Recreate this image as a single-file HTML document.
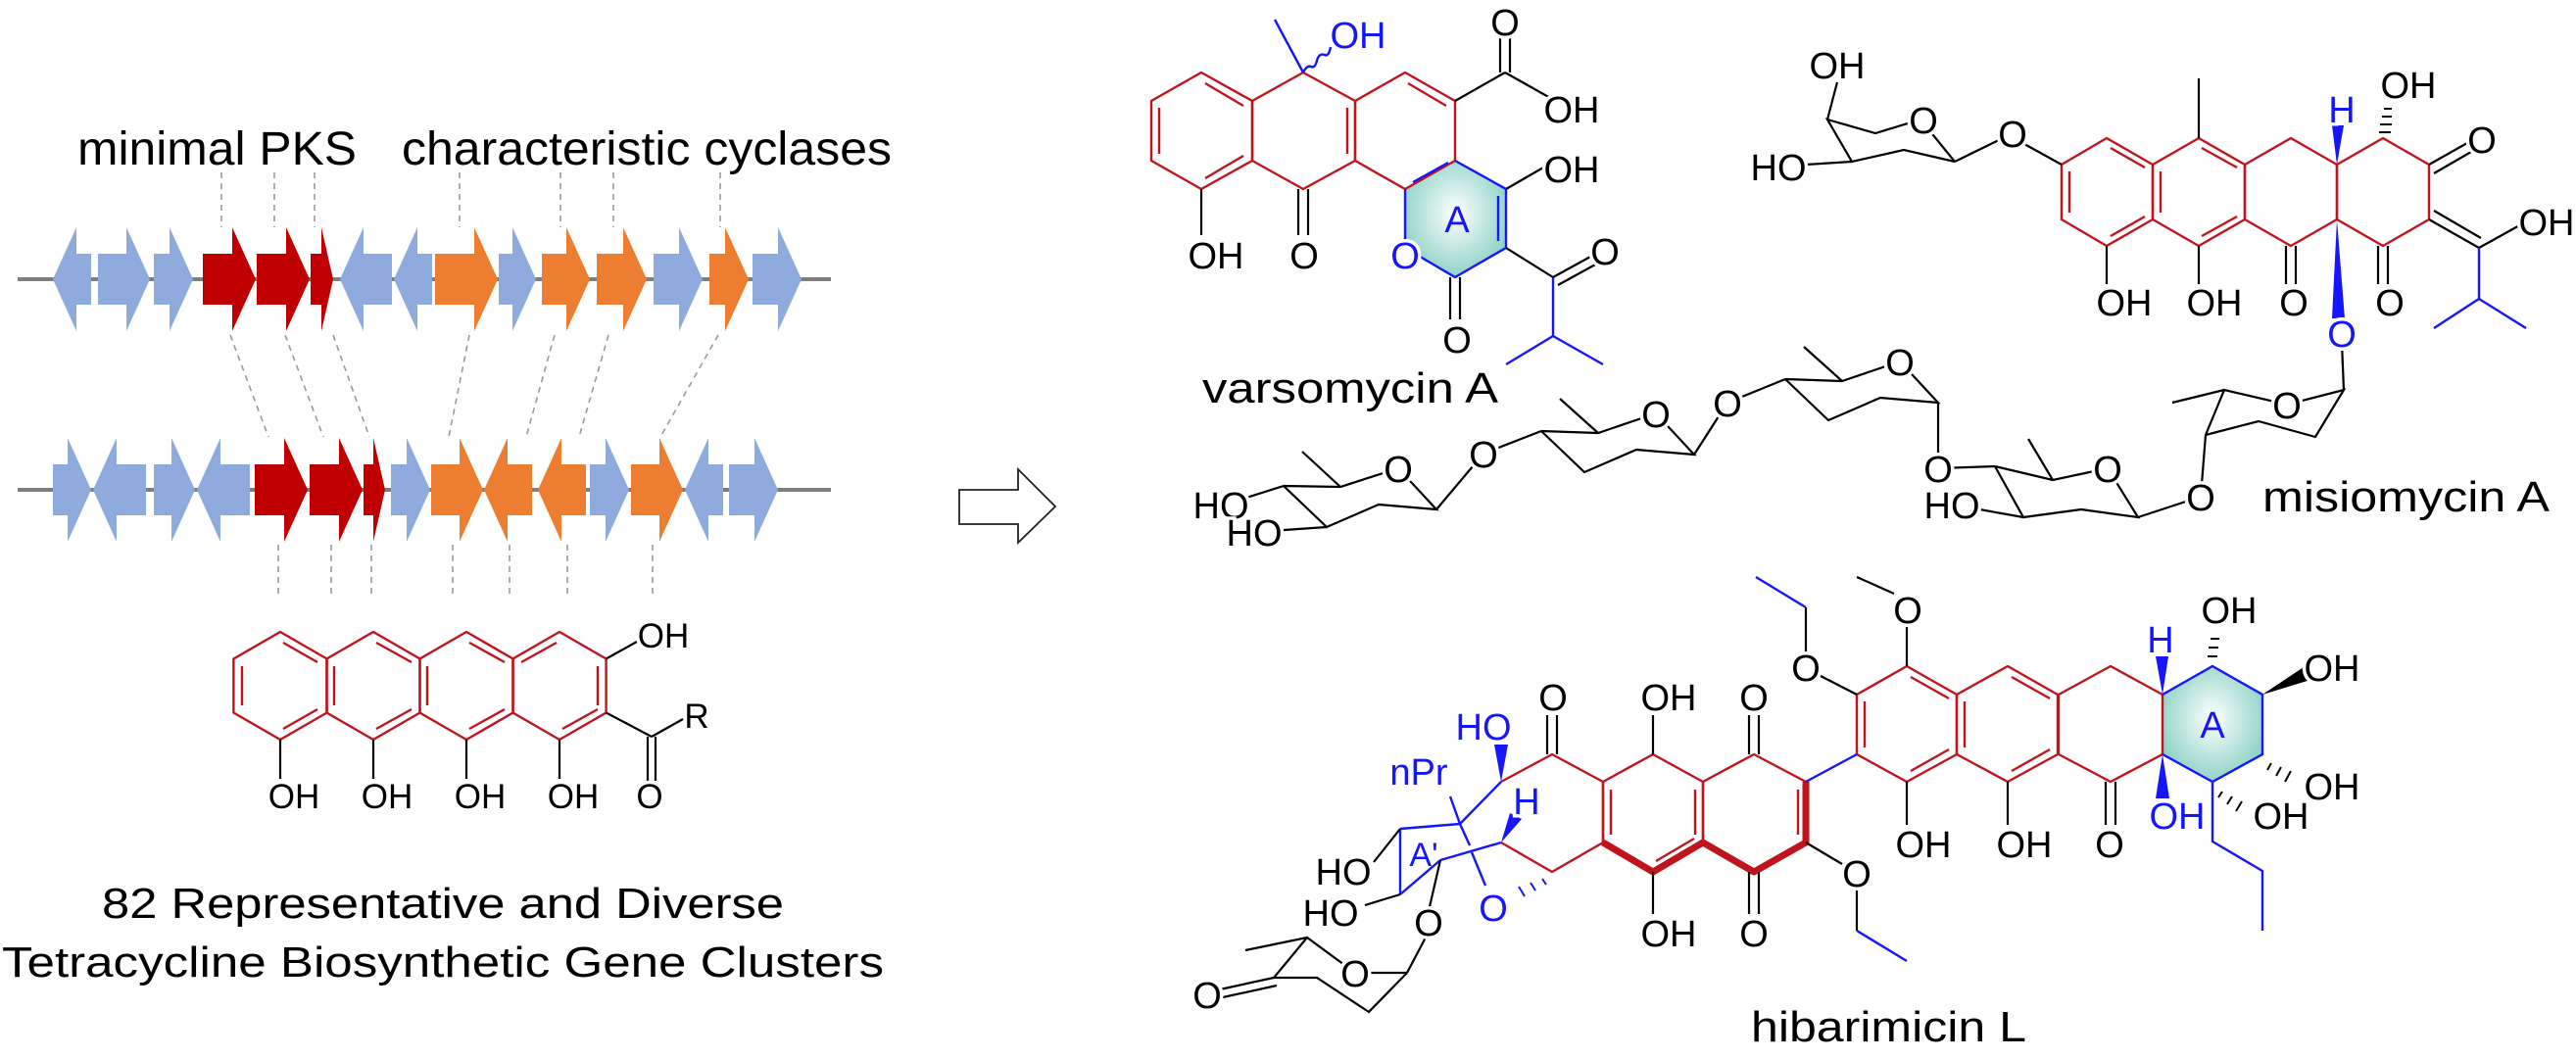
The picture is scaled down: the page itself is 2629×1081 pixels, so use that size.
<!DOCTYPE html>
<html><head><meta charset="utf-8"><style>
html,body{margin:0;padding:0;background:#fff;}
svg{display:block;}
text{font-family:"Liberation Sans",Arial,sans-serif;}
.l{font-size:38px;text-anchor:middle;stroke:#fff;stroke-width:7px;paint-order:stroke;}
.s{font-size:35px;text-anchor:middle;stroke:#fff;stroke-width:7px;paint-order:stroke;}
.b{fill:#1515ff;}
</style></head><body>
<svg width="2629" height="1081" viewBox="0 0 2629 1081" xmlns="http://www.w3.org/2000/svg">
<defs>
<radialGradient id="sh" cx="50%" cy="45%" r="55%"><stop offset="0" stop-color="#ffffff"/><stop offset="1" stop-color="#8fd3c6"/></radialGradient>
</defs>

<!-- ============ LEFT PANEL ============ -->
<text x="79" y="168" font-size="48" textLength="285" lengthAdjust="spacingAndGlyphs">minimal PKS</text>
<text x="410" y="168" font-size="48" textLength="500" lengthAdjust="spacingAndGlyphs">characteristic cyclases</text>

<g stroke="#9a9a9a" stroke-width="1.6" stroke-dasharray="6 5" fill="none">
<line x1="226" y1="176" x2="226" y2="232"/><line x1="280" y1="176" x2="280" y2="232"/><line x1="321" y1="176" x2="321" y2="232"/>
<line x1="469" y1="176" x2="469" y2="232"/><line x1="572" y1="176" x2="572" y2="232"/><line x1="626" y1="176" x2="626" y2="232"/><line x1="735" y1="176" x2="735" y2="232"/>
<line x1="235" y1="342" x2="274" y2="446"/><line x1="291" y1="342" x2="330" y2="446"/><line x1="340" y1="342" x2="377" y2="446"/>
<line x1="479" y1="342" x2="458" y2="446"/><line x1="566" y1="342" x2="537" y2="446"/><line x1="621" y1="342" x2="591" y2="446"/><line x1="733" y1="342" x2="674" y2="446"/>
<line x1="284" y1="556" x2="284" y2="611"/><line x1="338" y1="556" x2="338" y2="611"/><line x1="379" y1="556" x2="379" y2="611"/><line x1="462" y1="556" x2="462" y2="611"/><line x1="520" y1="556" x2="520" y2="611"/><line x1="579" y1="556" x2="579" y2="611"/><line x1="666" y1="556" x2="666" y2="611"/>
</g>

<line x1="18" y1="285" x2="848" y2="285" stroke="#7f7f7f" stroke-width="4"/>
<line x1="18" y1="500" x2="848" y2="500" stroke="#7f7f7f" stroke-width="4"/>

<g>
<polygon fill="#8faadc" points="54,285 78,232 78,259 93,259 93,311 78,311 78,338"/>
<polygon fill="#8faadc" points="100,259 129,259 129,232 153,285 129,338 129,311 100,311"/>
<polygon fill="#8faadc" points="157,259 173,259 173,232 197,285 173,338 173,311 157,311"/>
<polygon fill="#c00000" points="207,259 237,259 237,232 261,285 237,338 237,311 207,311"/>
<polygon fill="#c00000" points="262,259 292,259 292,232 316,285 292,338 292,311 262,311"/>
<polygon fill="#c00000" points="317,259 328,259 328,232 340,285 328,338 328,311 317,311"/>
<polygon fill="#8faadc" points="347,285 371,232 371,259 400,259 400,311 371,311 371,338"/>
<polygon fill="#8faadc" points="402,285 426,232 426,259 441,259 441,311 426,311 426,338"/>
<polygon fill="#ed7d31" points="444,259 484,259 484,232 508,285 484,338 484,311 444,311"/>
<polygon fill="#8faadc" points="509,259 523,259 523,232 547,285 523,338 523,311 509,311"/>
<polygon fill="#ed7d31" points="553,259 578,259 578,232 602,285 578,338 578,311 553,311"/>
<polygon fill="#ed7d31" points="609,259 636,259 636,232 660,285 636,338 636,311 609,311"/>
<polygon fill="#8faadc" points="667,259 693,259 693,232 717,285 693,338 693,311 667,311"/>
<polygon fill="#ed7d31" points="724,259 740,259 740,232 764,285 740,338 740,311 724,311"/>
<polygon fill="#8faadc" points="768,259 794,259 794,232 818,285 794,338 794,311 768,311"/>
</g>
<g>
<polygon fill="#8faadc" points="54,474 69,474 69,447 93,500 69,553 69,526 54,526"/>
<polygon fill="#8faadc" points="95,500 119,447 119,474 149,474 149,526 119,526 119,553"/>
<polygon fill="#8faadc" points="157,474 175,474 175,447 199,500 175,553 175,526 157,526"/>
<polygon fill="#8faadc" points="201,500 225,447 225,474 255,474 255,526 225,526 225,553"/>
<polygon fill="#c00000" points="260,474 290,474 290,447 314,500 290,553 290,526 260,526"/>
<polygon fill="#c00000" points="316,474 346,474 346,447 370,500 346,553 346,526 316,526"/>
<polygon fill="#c00000" points="371,474 381,474 381,447 393,500 381,553 381,526 371,526"/>
<polygon fill="#8faadc" points="399,474 415,474 415,447 439,500 415,553 415,526 399,526"/>
<polygon fill="#ed7d31" points="440,474 469,474 469,447 493,500 469,553 469,526 440,526"/>
<polygon fill="#ed7d31" points="494,500 518,447 518,474 543,474 543,526 518,526 518,553"/>
<polygon fill="#ed7d31" points="549,500 573,447 573,474 598,474 598,526 573,526 573,553"/>
<polygon fill="#8faadc" points="602,474 618,474 618,447 642,500 618,553 618,526 602,526"/>
<polygon fill="#ed7d31" points="644,474 673,474 673,447 697,500 673,553 673,526 644,526"/>
<polygon fill="#8faadc" points="699,500 723,447 723,474 738,474 738,526 723,526 723,553"/>
<polygon fill="#8faadc" points="744,474 770,474 770,447 794,500 770,553 770,526 744,526"/>
</g>

<g fill="none" stroke="#c0141c" stroke-width="2.4" stroke-linejoin="round">
<polygon points="286,645 333.6,672.5 333.6,727.5 286,755 238.4,727.5 238.4,672.5"/>
<polygon points="381,645 428.6,672.5 428.6,727.5 381,755 333.4,727.5 333.4,672.5"/>
<polygon points="476,645 523.6,672.5 523.6,727.5 476,755 428.4,727.5 428.4,672.5"/>
<polygon points="571,645 618.6,672.5 618.6,727.5 571,755 523.4,727.5 523.4,672.5"/>
<line x1="247" y1="680" x2="247" y2="720"/><line x1="289" y1="656" x2="324" y2="676"/><line x1="289" y1="744" x2="324" y2="724"/>
<line x1="341" y1="680" x2="341" y2="720"/><line x1="384" y1="656" x2="420" y2="676"/><line x1="384" y1="744" x2="420" y2="724"/>
<line x1="436" y1="680" x2="436" y2="720"/><line x1="479" y1="656" x2="515" y2="676"/><line x1="479" y1="744" x2="515" y2="724"/>
<line x1="610" y1="680" x2="610" y2="720"/><line x1="532" y1="676" x2="568" y2="656"/><line x1="574" y1="744" x2="610" y2="724"/>
</g>
<g stroke="#000" stroke-width="2.2" fill="none">
<line x1="286" y1="755" x2="286" y2="795"/><line x1="381" y1="755" x2="381" y2="795"/><line x1="476" y1="755" x2="476" y2="795"/><line x1="571" y1="755" x2="571" y2="795"/>
<line x1="618.6" y1="672.5" x2="650" y2="655"/>
<line x1="618.6" y1="727.5" x2="665" y2="752"/><line x1="665" y1="752" x2="697" y2="734"/>
<line x1="661" y1="752" x2="661" y2="797"/><line x1="669" y1="752" x2="669" y2="797"/>
</g>
<text class="s" x="300" y="825">OH</text><text class="s" x="395" y="825">OH</text><text class="s" x="490" y="825">OH</text><text class="s" x="585" y="825">OH</text>
<text class="s" x="663" y="825">O</text>
<text class="s" x="677" y="661">OH</text>
<text class="s" x="711" y="743">R</text>

<text x="104" y="937" font-size="44" textLength="696" lengthAdjust="spacingAndGlyphs">82 Representative and Diverse</text>
<text x="2" y="997" font-size="44" textLength="900" lengthAdjust="spacingAndGlyphs">Tetracycline Biosynthetic Gene Clusters</text>

<polygon points="979,500 1039,500 1039,479 1077,517 1039,554 1039,535 979,535" fill="#fff" stroke="#222" stroke-width="1.8"/>

<!-- ============ VARSOMYCIN A ============ -->
<polygon points="1485,164 1537,193 1537,253 1485,283 1434,253 1434,193" fill="url(#sh)"/>
<g fill="none" stroke="#c0141c" stroke-width="2.4" stroke-linejoin="round">
<polygon points="1226,74 1278,103 1278,164 1226,193 1175,164 1175,103"/>
<polygon points="1330,74 1383,103 1383,164 1330,193 1278,164 1278,103"/>
<polyline points="1434,193 1383,164 1383,103 1434,74 1485,103 1485,164 1434,193"/>
<line x1="1183" y1="110" x2="1183" y2="157"/><line x1="1230" y1="85" x2="1269" y2="108"/><line x1="1230" y1="182" x2="1269" y2="159"/>
<line x1="1375" y1="110" x2="1375" y2="157"/><line x1="1437" y1="85" x2="1476" y2="108"/>
</g>
<g fill="none" stroke="#1515ff" stroke-width="2.4">
<polyline points="1485,164 1537,193 1537,253 1485,283 1434,253 1434,193"/>
<line x1="1529" y1="200" x2="1529" y2="246"/><line x1="1442" y1="186" x2="1478" y2="166"/>
<line x1="1330" y1="74" x2="1301" y2="20"/>
<path d="M1330,74 q4,-8 8,-6 q4,2 6,-6 q2,-8 8,-6 q4,2 6,-8"/>
<line x1="1585" y1="283" x2="1585" y2="343"/><line x1="1585" y1="343" x2="1537" y2="372"/><line x1="1585" y1="343" x2="1636" y2="372"/>
</g>
<g stroke="#000" stroke-width="2.2" fill="none">
<line x1="1485" y1="103" x2="1536" y2="74"/><line x1="1531" y1="74" x2="1531" y2="36"/><line x1="1541" y1="74" x2="1541" y2="36"/>
<line x1="1536" y1="74" x2="1584" y2="101"/>
<line x1="1537" y1="193" x2="1582" y2="167"/>
<line x1="1226" y1="193" x2="1226" y2="240"/>
<line x1="1325" y1="193" x2="1325" y2="240"/><line x1="1335" y1="193" x2="1335" y2="240"/>
<line x1="1480" y1="283" x2="1480" y2="326"/><line x1="1490" y1="283" x2="1490" y2="326"/>
<line x1="1537" y1="253" x2="1585" y2="283"/><line x1="1585" y1="283" x2="1625" y2="261"/><line x1="1590" y1="291" x2="1630" y2="269"/>
</g>
<circle cx="1434" cy="260" r="14" fill="#fff"/>
<text class="l b" x="1386" y="49">OH</text>
<text class="l" x="1536" y="36">O</text>
<text class="l" x="1604" y="125">OH</text>
<text class="l" x="1604" y="186">OH</text>
<text class="l" x="1241" y="274">OH</text>
<text class="l" x="1331" y="274">O</text>
<text class="l b" x="1434" y="274">O</text>
<text class="l b" x="1487" y="237" style="stroke:none">A</text>
<text class="l" x="1487" y="360">O</text>
<text class="l" x="1638" y="270">O</text>
<text x="1227" y="411" font-size="44" textLength="302" lengthAdjust="spacingAndGlyphs">varsomycin A</text>

<!-- ============ MISIOMYCIN A ============ -->
<g fill="none" stroke="#c0141c" stroke-width="2.4" stroke-linejoin="round">
<polygon points="2150,141 2197,168 2197,224 2150,251 2104,224 2104,168"/>
<polygon points="2244,141 2291,168 2291,224 2244,251 2197,224 2197,168"/>
<polygon points="2338,141 2385,168 2385,224 2338,251 2291,224 2291,168"/>
<polygon points="2432,141 2479,168 2479,224 2432,251 2385,224 2385,168"/>
<line x1="2112" y1="175" x2="2112" y2="217"/><line x1="2154" y1="151" x2="2189" y2="171"/><line x1="2154" y1="241" x2="2189" y2="221"/>
<line x1="2205" y1="175" x2="2205" y2="217"/><line x1="2247" y1="151" x2="2283" y2="171"/><line x1="2247" y1="241" x2="2283" y2="221"/>
</g>
<g stroke="#000" stroke-width="2.2" fill="none">
<line x1="2244" y1="141" x2="2244" y2="80"/>
<line x1="2104" y1="168" x2="2066" y2="147"/>
<line x1="2042" y1="142" x2="1995" y2="165"/>
<polyline points="1995,165 1943,153 1890,165 1865,122 1914,136 1960,122 1995,165"/>
<line x1="1865" y1="122" x2="1875" y2="84"/>
<line x1="1890" y1="165" x2="1843" y2="168"/>
<line x1="2150" y1="251" x2="2150" y2="290"/><line x1="2244" y1="251" x2="2244" y2="290"/>
<line x1="2333" y1="251" x2="2333" y2="290"/><line x1="2343" y1="251" x2="2343" y2="290"/>
<line x1="2427" y1="251" x2="2427" y2="290"/><line x1="2437" y1="251" x2="2437" y2="290"/>
<line x1="2479" y1="168" x2="2518" y2="146"/><line x1="2484" y1="177" x2="2522" y2="155"/>
<line x1="2479" y1="224" x2="2530" y2="253"/><line x1="2484" y1="215" x2="2532" y2="243"/>
<line x1="2530" y1="253" x2="2575" y2="228"/>
<g stroke-width="2"><line x1="2428" y1="135" x2="2440" y2="135"/><line x1="2429" y1="127" x2="2441" y2="127"/><line x1="2431" y1="119" x2="2441" y2="119"/><line x1="2433" y1="111" x2="2441" y2="111"/></g>
<polyline points="1310,496 1368,497 1427,478 1466,520 1407,515 1354,538 1310,496"/>
<line x1="1368" y1="497" x2="1329" y2="461"/>
<line x1="1310" y1="496" x2="1250" y2="515"/><line x1="1354" y1="538" x2="1282" y2="543"/>
<line x1="1466" y1="520" x2="1514" y2="463"/><line x1="1514" y1="463" x2="1573" y2="440"/>
<polyline points="1573,440 1631,442 1690,422 1729,464 1670,459 1617,482 1573,440"/>
<line x1="1631" y1="442" x2="1592" y2="407"/>
<line x1="1729" y1="464" x2="1763" y2="411"/><line x1="1763" y1="411" x2="1822" y2="387"/>
<polyline points="1822,387 1880,389 1939,369 1978,411 1919,406 1866,429 1822,387"/>
<line x1="1880" y1="389" x2="1841" y2="354"/>
<line x1="1978" y1="411" x2="1978" y2="478"/><line x1="1978" y1="478" x2="2036" y2="476"/>
<polyline points="2036,476 2095,490 2151,478 2182,528 2124,520 2065,528 2036,476"/>
<line x1="2095" y1="490" x2="2070" y2="448"/>
<line x1="2065" y1="528" x2="1992" y2="515"/>
<line x1="2182" y1="528" x2="2246" y2="507"/><line x1="2246" y1="507" x2="2251" y2="444"/>
<polyline points="2251,444 2270,398 2334,413 2392,398 2363,446 2305,430 2251,444"/>
<line x1="2270" y1="398" x2="2217" y2="411"/>
</g>
<line x1="2392" y1="398" x2="2390" y2="350" stroke="#000" stroke-width="2.2"/>
<polygon points="2385,224 2380,325 2393,325" fill="#1515ff"/>
<polygon points="2385,168 2380,128 2392,128" fill="#1515ff"/>
<g fill="none" stroke="#1515ff" stroke-width="2.4">
<line x1="2530" y1="253" x2="2530" y2="305"/><line x1="2530" y1="305" x2="2484" y2="335"/><line x1="2530" y1="305" x2="2578" y2="335"/>
</g>
<!-- white discs behind O labels -->
<g fill="#fff">
<circle cx="2054" cy="136" r="14"/><circle cx="1963" cy="122" r="14"/>
<circle cx="1427" cy="478" r="14"/><circle cx="1514" cy="463" r="14"/>
<circle cx="1690" cy="422" r="14"/><circle cx="1763" cy="411" r="14"/>
<circle cx="1939" cy="369" r="14"/><circle cx="1978" cy="478" r="14"/>
<circle cx="2151" cy="478" r="14"/><circle cx="2246" cy="507" r="14"/>
<circle cx="2334" cy="413" r="14"/><circle cx="2390" cy="340" r="14"/>
<circle cx="1256" cy="515" r="14"/><circle cx="1290" cy="543" r="14"/><circle cx="2002" cy="515" r="14"/>
<circle cx="1825" cy="170" r="14"/>
</g>
<text class="l" x="2054" y="150">O</text>
<text class="l" x="1875" y="80">OH</text>
<text class="l" x="1815" y="184">HO</text>
<text class="l" x="1963" y="136">O</text>
<text class="l" x="2168" y="322">OH</text><text class="l" x="2260" y="322">OH</text>
<text class="l" x="2341" y="322">O</text><text class="l" x="2439" y="322">O</text>
<text class="l b" x="2390" y="354">O</text>
<text class="l b" x="2390" y="125">H</text>
<text class="l" x="2458" y="100">OH</text>
<text class="l" x="2533" y="156">O</text>
<text class="l" x="2599" y="240">OH</text>
<text class="l" x="1246" y="529">HO</text><text class="l" x="1280" y="557">HO</text>
<text class="l" x="1427" y="492">O</text>
<text class="l" x="1514" y="477">O</text>
<text class="l" x="1690" y="436">O</text>
<text class="l" x="1763" y="425">O</text>
<text class="l" x="1939" y="383">O</text>
<text class="l" x="1978" y="492">O</text>
<text class="l" x="1992" y="529">HO</text>
<text class="l" x="2151" y="492">O</text>
<text class="l" x="2246" y="521">O</text>
<text class="l" x="2334" y="427">O</text>
<text x="2309" y="522" font-size="44" textLength="293" lengthAdjust="spacingAndGlyphs">misiomycin A</text>

<!-- ============ HIBARIMICIN L ============ -->
<polygon points="2258,680 2309,709 2309,770 2258,798 2207,770 2207,709" fill="url(#sh)"/>
<g fill="none" stroke="#c0141c" stroke-width="2.4" stroke-linejoin="round">
<polygon points="1946,680 1997,709 1997,770 1946,798 1895,770 1895,709"/>
<polygon points="2049,680 2100,709 2100,770 2049,798 1997,770 1997,709"/>
<polyline points="2207,709 2154,680 2101,709 2101,770 2154,798 2207,770 2207,709"/>
<polygon points="1790,770 1843,798 1843,860 1790,890 1738,860 1738,798"/>
<polygon points="1687,770 1738,798 1738,860 1687,890 1636,860 1636,798"/>
<polyline points="1532,798 1584,770 1636,798 1636,860 1584,890 1532,860"/>
<line x1="1903" y1="716" x2="1903" y2="763"/><line x1="1950" y1="691" x2="1989" y2="713"/><line x1="1950" y1="787" x2="1989" y2="765"/>
<line x1="2005" y1="716" x2="2005" y2="763"/><line x1="2053" y1="691" x2="2092" y2="713"/><line x1="2053" y1="787" x2="2092" y2="765"/>
<line x1="1835" y1="806" x2="1835" y2="852"/>
<line x1="1644" y1="806" x2="1644" y2="852"/><line x1="1690" y1="879" x2="1729" y2="856"/><line x1="1730" y1="806" x2="1730" y2="852"/>
</g>
<polyline points="1636,860 1687,890 1738,860 1790,890 1843,860 1843,798" fill="none" stroke="#c0141c" stroke-width="7" stroke-linejoin="round"/>
<g fill="none" stroke="#1515ff" stroke-width="2.4">
<polyline points="2207,709 2258,680 2309,709 2309,770 2258,798 2207,770"/>
<line x1="1843" y1="798" x2="1895" y2="770"/>
<line x1="1843" y1="620" x2="1792" y2="589"/>
<line x1="1895" y1="950" x2="1946" y2="981"/>
<polyline points="2258,798 2258,859 2309,889 2309,950"/>
<line x1="1532" y1="798" x2="1490" y2="841"/><line x1="1480" y1="813" x2="1490" y2="841"/>
<line x1="1429" y1="846" x2="1490" y2="841"/><line x1="1429" y1="846" x2="1429" y2="913"/>
<line x1="1532" y1="860" x2="1470" y2="878"/><line x1="1470" y1="878" x2="1429" y2="913"/>
<line x1="1490" y1="841" x2="1500" y2="863"/><line x1="1502" y1="870" x2="1516" y2="904"/>
</g>
<g stroke="#000" stroke-width="2.2" fill="none">
<line x1="1895" y1="709" x2="1858" y2="690"/>
<line x1="1843" y1="666" x2="1843" y2="620"/>
<line x1="1946" y1="680" x2="1946" y2="640"/>
<line x1="1933" y1="606" x2="1895" y2="589"/>
<line x1="1946" y1="798" x2="1946" y2="842"/><line x1="2049" y1="798" x2="2049" y2="842"/>
<line x1="2149" y1="798" x2="2149" y2="842"/><line x1="2159" y1="798" x2="2159" y2="842"/>
<line x1="1785" y1="770" x2="1785" y2="730"/><line x1="1795" y1="770" x2="1795" y2="730"/>
<line x1="1785" y1="890" x2="1785" y2="933"/><line x1="1795" y1="890" x2="1795" y2="933"/>
<line x1="1687" y1="770" x2="1687" y2="730"/><line x1="1687" y1="890" x2="1687" y2="933"/>
<line x1="1579" y1="770" x2="1579" y2="730"/><line x1="1589" y1="770" x2="1589" y2="730"/>
<line x1="1843" y1="860" x2="1880" y2="882"/>
<line x1="1895" y1="906" x2="1895" y2="950"/>
<line x1="1402" y1="880" x2="1429" y2="846"/><line x1="1393" y1="924" x2="1429" y2="913"/>
<line x1="1470" y1="878" x2="1458" y2="930"/>
<line x1="1456" y1="955" x2="1436" y2="993"/>
<polyline points="1436,993 1397,1033 1344,998 1300,998 1334,957 1383,993 1436,993"/>
<line x1="1334" y1="957" x2="1271" y2="970"/>
<line x1="1300" y1="998" x2="1245" y2="1010"/><line x1="1303" y1="1006" x2="1248" y2="1018"/>
<g stroke-width="2"><line x1="2253" y1="670" x2="2263" y2="670"/><line x1="2254" y1="661" x2="2264" y2="661"/><line x1="2256" y1="652" x2="2265" y2="652"/>
<line x1="2318" y1="779" x2="2314" y2="786"/><line x1="2328" y1="783" x2="2323" y2="792"/><line x1="2338" y1="787" x2="2332" y2="798"/>
<line x1="2268" y1="808" x2="2264" y2="814"/><line x1="2278" y1="813" x2="2273" y2="821"/><line x1="2288" y1="818" x2="2282" y2="828"/></g>
</g>
<polygon points="2207,709 2200,670 2213,670" fill="#1515ff"/>
<polygon points="2207,770 2200,815 2214,815" fill="#1515ff"/>
<polygon points="2309,709 2351,681 2358,694" fill="#000"/>
<polygon points="1532,798 1525,760 1539,760" fill="#1515ff"/>
<polygon points="1532,860 1541,830 1553,836" fill="#1515ff"/>
<g stroke="#1515ff" stroke-width="2"><line x1="1574" y1="897" x2="1578" y2="903"/><line x1="1562" y1="901" x2="1567" y2="909"/><line x1="1550" y1="905" x2="1556" y2="915"/></g>
<g fill="#fff">
<circle cx="1383" cy="993" r="14"/><circle cx="1458" cy="941" r="14"/><circle cx="1524" cy="926" r="14"/>
<circle cx="1843" cy="681" r="14"/><circle cx="1895" cy="891" r="14"/><circle cx="1947" cy="622" r="14"/>
</g>
<text class="l" x="1843" y="695">O</text>
<text class="l" x="1947" y="636">O</text>
<text class="l" x="1963" y="875">OH</text><text class="l" x="2066" y="875">OH</text>
<text class="l" x="2153" y="875">O</text>
<text class="l b" x="2205" y="666">H</text>
<text class="l" x="2275" y="636">OH</text>
<text class="l" x="2380" y="695">OH</text>
<text class="l" x="2380" y="816">OH</text>
<text class="l" x="2328" y="846">OH</text>
<text class="l b" x="2222" y="846">OH</text>
<text class="l b" x="2258" y="753" style="stroke:none">A</text>
<text class="l" x="1790" y="725">O</text><text class="l" x="1790" y="966">O</text>
<text class="l" x="1703" y="725">OH</text><text class="l" x="1703" y="966">OH</text>
<text class="l" x="1585" y="725">O</text>
<text class="l" x="1895" y="905">O</text>
<text class="l b" x="1514" y="755">HO</text>
<text class="l b" x="1558" y="831">H</text>
<text class="l b" x="1524" y="940">O</text>
<text class="l b" x="1448" y="801">nPr</text>
<text class="l b" x="1453" y="884" style="stroke:none;font-size:34px">A'</text>
<text class="l" x="1371" y="903">HO</text><text class="l" x="1358" y="945">HO</text>
<text class="l" x="1458" y="955">O</text>
<text class="l" x="1383" y="1007">O</text>
<text class="l" x="1232" y="1029">O</text>
<text x="1787" y="1063" font-size="44" textLength="281" lengthAdjust="spacingAndGlyphs">hibarimicin L</text>
</svg>
</body></html>
